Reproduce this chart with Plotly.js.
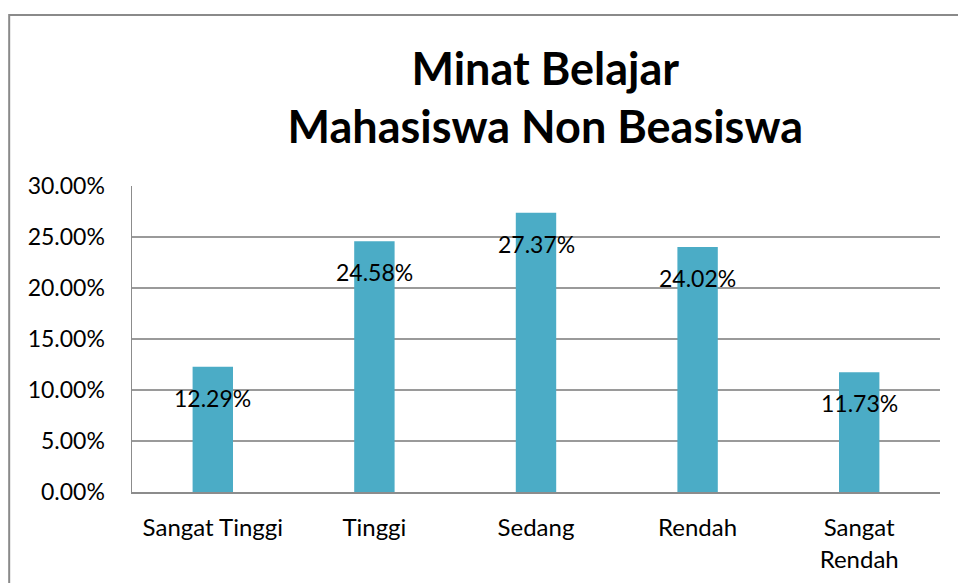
<!DOCTYPE html>
<html>
<head>
<meta charset="utf-8">
<script src="https://cdn.plot.ly/plotly-3.0.1.min.js"></script>
<style>html,body{margin:0;padding:0;background:#fff;}#chart{width:958px;height:583px;}</style>
</head>
<body>
<div id="chart"></div>
<script>
var categories = ["Sangat Tinggi", "Tinggi", "Sedang", "Rendah", "Sangat Rendah"];
var tickLabels = ["Sangat Tinggi", "Tinggi", "Sedang", "Rendah", "Sangat<br>Rendah"];
var values = [12.29, 24.58, 27.37, 24.02, 11.73];
var valueLabels = ["12.29%", "24.58%", "27.37%", "24.02%", "11.73%"];
var yTicks = [0, 5, 10, 15, 20, 25, 30];
var yTickLabels = ["0.00%", "5.00%", "10.00%", "15.00%", "20.00%", "25.00%", "30.00%"];

var FONT = "Lato, Carlito, Calibri, sans-serif";

var annotations = categories.map(function (c, i) {
  return {
    x: c, y: values[i], xref: "x", yref: "y",
    text: valueLabels[i], showarrow: false, yshift: -31,
    font: {family: FONT, size: 23, color: "#000"}
  };
});

var data = [{
  type: "bar",
  x: categories,
  y: values,
  width: 0.25,
  marker: {color: "#4BACC6"},
  hoverinfo: "x+y"
}];

var layout = {
  width: 958, height: 583,
  margin: {l: 132, r: 18, t: 186, b: 91},
  paper_bgcolor: "#fff", plot_bgcolor: "#fff",
  font: {family: FONT, size: 22, color: "#000"},
  title: {
    text: "<b>Minat Belajar</b><br><b>Mahasiswa Non Beasiswa</b>",
    x: 0.5115, xanchor: "center", xref: "paper",
    y: 0.855, yanchor: "middle", yref: "container",
    font: {family: FONT, size: 45, color: "#000"}
  },
  showlegend: false,
  xaxis: {
    type: "category",
    tickvals: categories, ticktext: tickLabels,
    showline: true, linecolor: "#8c8c8c", linewidth: 1.5,
    showgrid: false, ticks: "", ticklabelstandoff: 14,
    tickfont: {family: FONT, size: 24, color: "#000"},
    fixedrange: true
  },
  yaxis: {
    range: [0, 30],
    tickvals: yTicks, ticktext: yTickLabels,
    showline: true, linecolor: "#8c8c8c", linewidth: 1.5,
    showgrid: true, gridcolor: "#9a9a9a", gridwidth: 1.5,
    zeroline: false, ticks: "", ticklabelstandoff: 21,
    tickfont: {family: FONT, size: 23, color: "#000"},
    fixedrange: true
  },
  annotations: annotations,
  shapes: [{
    type: "rect", xref: "paper", yref: "paper",
    x0: -0.152, x1: 1.2, y0: -0.5, y1: 1.559,
    line: {color: "#8a8a8a", width: 2}, fillcolor: "rgba(0,0,0,0)", layer: "below"
  }]
};

Plotly.newPlot("chart", data, layout, {displayModeBar: false, staticPlot: true});
</script>
</body>
</html>
